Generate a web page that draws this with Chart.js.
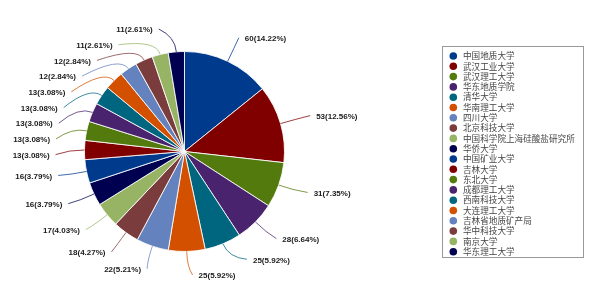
<!DOCTYPE html>
<html>
<head>
<meta charset="utf-8">
<script src="https://cdn.jsdelivr.net/npm/chart.js@4.4.1/dist/chart.umd.min.js"></script>
<style>
  html,body{margin:0;padding:0;background:#fff;}
  #wrap{width:600px;height:286px;position:relative;}
</style>
</head>
<body>
<div id="wrap"><canvas id="c" width="600" height="286"></canvas></div>
<script>
const categories = ["中国地质大学","武汉工业大学","武汉理工大学","华东地质学院","清华大学","华南理工大学","四川大学","北京科技大学","中国科学院上海硅酸盐研究所","华侨大学","中国矿业大学","吉林大学","东北大学","成都理工大学","西南科技大学","大连理工大学","吉林省地质矿产局","华中科技大学","南京大学","华东理工大学"];
const values = [60,53,31,28,25,25,22,18,17,16,16,13,13,13,13,13,12,12,11,11];
const palette = ["#003a8c","#800000","#527a0c","#4a236e","#006680","#d25000","#6482be","#7a3c3c","#96b464","#000050"];

const total = values.reduce((a,b)=>a+b,0);
const sliceColors = values.map((v,i)=>palette[i%palette.length]);

const labelPlugin = {
  id:'outLabels',
  afterDraw(chart){
    const ctx = chart.ctx;
    const meta = chart.getDatasetMeta(0);
    const items = meta.data.map((arc,i)=>{
      const p = arc.getProps(['x','y','startAngle','endAngle','outerRadius'], true);
      const mid = (p.startAngle+p.endAngle)/2;
      const s = Math.cos(mid), c = Math.sin(mid);
      const r = p.outerRadius;
      return {i, cx:p.x, cy:p.y, r, s, c,
        ex:p.x + r*s, ey:p.y + r*c,
        ly:p.y + 1.25*r*c, side: s>=0?1:-1};
    });
    const GAP = 15.7, TOP = 30, BOT = 276;
    [items.filter(d=>d.side<0), items.filter(d=>d.side>0)].forEach(group=>{
      group.sort((a,b)=>a.ly-b.ly);
      let prev = -Infinity;
      group.forEach(d=>{ d.ly = Math.max(d.ly, TOP, prev+GAP); prev = d.ly; });
      let next = Infinity;
      for(let k=group.length-1;k>=0;k--){
        const d = group[k];
        d.ly = Math.min(d.ly, BOT, next-GAP); next = d.ly;
      }
    });

    ctx.save();
    ctx.font = 'bold 8px "Liberation Sans", Arial, sans-serif';
    ctx.textBaseline = 'middle';
    items.forEach(d=>{
      const A = 1.35*d.r, B = 1.25*d.r;
      const dy = (d.ly - d.cy)/B;
      const ax = d.cx + d.side*A*Math.sqrt(Math.max(0,1-dy*dy));
      const txt = values[d.i] + '(' + (values[d.i]/total*100).toFixed(2) + '%)';
      let tx, lx;
      if(d.side>0){ tx = ax+2; ctx.textAlign='left'; lx = tx-6; }
      else { tx = ax; ctx.textAlign='right'; lx = tx+6; }
      const kx = d.cx + d.r*1.15*d.s, ky = d.cy + d.r*1.15*d.c;
      ctx.strokeStyle = sliceColors[d.i];
      ctx.globalAlpha = 0.75;
      ctx.lineWidth = 1;
      ctx.beginPath();
      ctx.moveTo(d.ex, d.ey);
      ctx.quadraticCurveTo(kx, ky, lx, d.ly-1);
      ctx.stroke();
      ctx.globalAlpha = 1;
      ctx.fillStyle = '#1a1a1a';
      ctx.fillText(txt, tx, d.ly);
    });
    ctx.restore();

    // legend
    ctx.save();
    ctx.strokeStyle = '#999';
    ctx.lineWidth = 1;
    ctx.strokeRect(442.5, 46.5, 141, 211);
    ctx.font = '8.6px "Noto Sans CJK SC", sans-serif';
    ctx.textBaseline = 'middle';
    ctx.textAlign = 'left';
    categories.forEach((name,i)=>{
      const y = 56 + i*10.3;
      ctx.fillStyle = sliceColors[i];
      ctx.beginPath();
      ctx.arc(453.3, y, 3.8, 0, Math.PI*2);
      ctx.fill();
      ctx.fillStyle = '#444';
      ctx.fillText(name, 463, y);
    });
    ctx.restore();
  }
};

new Chart(document.getElementById('c'), {
  type:'pie',
  data:{
    labels: categories,
    datasets:[{
      data: values,
      backgroundColor: sliceColors,
      borderColor: 'rgba(255,255,255,0.85)',
      borderWidth: 1
    }]
  },
  options:{
    responsive:false,
    animation:false,
    layout:{padding:{left:84, right:315, top:51, bottom:34}},
    plugins:{legend:{display:false}, tooltip:{enabled:false}}
  },
  plugins:[labelPlugin]
});
</script>
</body>
</html>
